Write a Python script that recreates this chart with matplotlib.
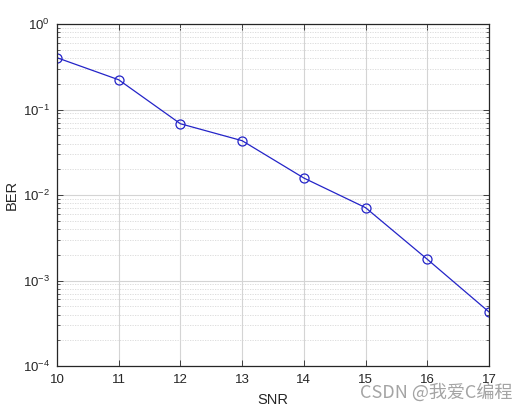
import numpy as np
import matplotlib
matplotlib.use("Agg")
import matplotlib.pyplot as plt
from matplotlib.ticker import LogLocator, NullFormatter

snr = [10, 11, 12, 13, 14, 15, 16, 17]
ber = [0.404, 0.223, 0.0682, 0.0432, 0.0158, 0.00711, 0.00177, 0.000428]

plt.rcParams['font.family'] = ['Liberation Sans', 'DejaVu Sans']

fig = plt.figure(figsize=(5.27, 4.11), dpi=100)
ax = fig.add_axes([0.108, 0.1095, 0.82, 0.832])

ax.semilogy(snr, ber, '-o', color='#2424c8', lw=0.9, markersize=6.5,
            markerfacecolor='none', markeredgewidth=0.9)

ax.set_xlim(10, 17)
ax.set_ylim(1e-4, 1e0)
ax.set_xticks(snr)
ax.yaxis.set_major_locator(LogLocator(base=10, numticks=10))
ax.yaxis.set_minor_locator(LogLocator(base=10, subs=np.arange(2, 10), numticks=20))
ax.yaxis.set_minor_formatter(NullFormatter())

ax.grid(True, which='major', color='#d4d4d4', lw=0.8, ls='-')
ax.grid(True, which='minor', axis='y', color='#d8d8d8', lw=0.6, ls=(0, (1.5, 1.5)))
ax.set_axisbelow(True)

ax.tick_params(which='both', direction='in', top=True, right=True,
               labelsize=9.5, colors='#262626')
ax.tick_params(which='major', length=4, width=0.6)
ax.tick_params(axis='x', which='major', pad=6)
ax.tick_params(axis='y', which='major', pad=5)
ax.tick_params(which='minor', length=2.5, width=0.5)
for s in ax.spines.values():
    s.set_linewidth(0.9)
    s.set_color('#262626')

ax.set_xlabel('SNR', fontsize=10.5, color='#262626', labelpad=5)
ax.set_ylabel('BER', fontsize=10.5, color='#262626', labelpad=3)

fig.text(0.972, 0.046, 'CSDN @我爱C编程', ha='right', va='center', fontsize=13,
         color='#9a9a9a', alpha=0.9, family=['Noto Sans CJK SC', 'DejaVu Sans'])

fig.savefig('out.png', dpi=100)
